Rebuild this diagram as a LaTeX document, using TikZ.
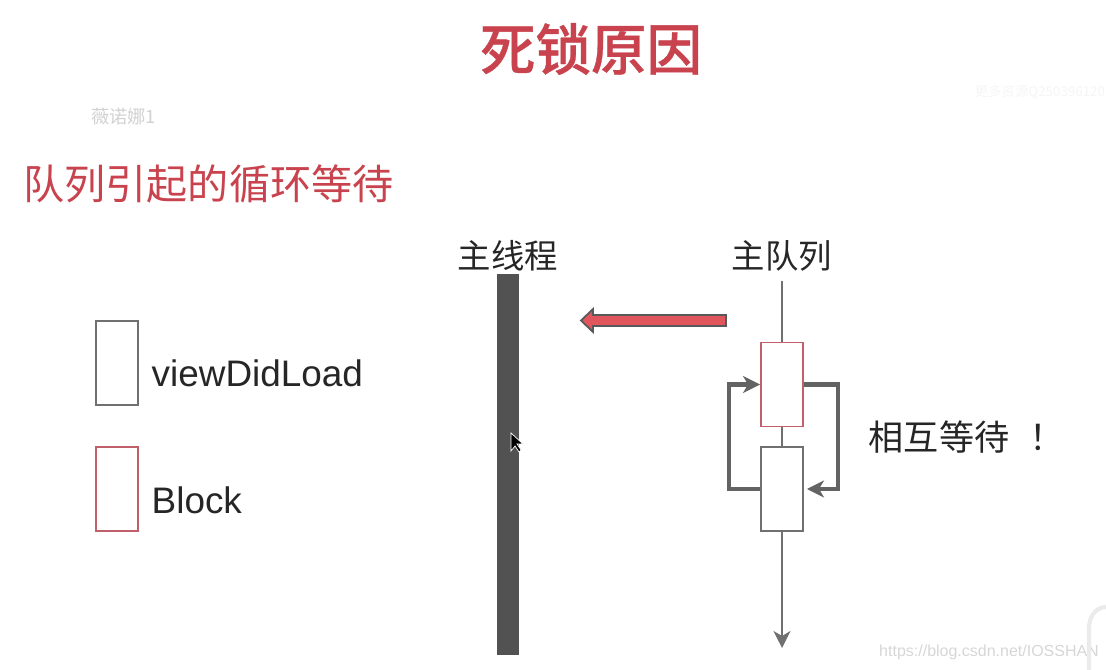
\documentclass[tikz,border=0pt]{standalone}
\usepackage{fontspec}
\setmainfont{Liberation Sans}
\newfontfamily\cjk{Noto Sans CJK SC}
\newfontfamily\cjkmed[FakeBold=0.6]{Noto Sans CJK SC Medium}
\usepackage{xcolor}
\usetikzlibrary{arrows.meta, calc, positioning}
\definecolor{titlered}{HTML}{C8434D}
\definecolor{arrowred}{HTML}{E0565C}
\definecolor{boxred}{HTML}{C0606A}
\definecolor{boxgray}{HTML}{707070}
\definecolor{bardark}{HTML}{525252}
\tikzset{
  label/.style={inner sep=0pt, text=black!85},
  box/.style={draw=boxgray, line width=0.55pt, fill=white, minimum width=0.42cm, minimum height=0.84cm, inner sep=0pt},
  redbox/.style={box, draw=boxred},
  loopline/.style={draw=bardark!90!white, line width=1.15pt}
}
\begin{document}
\begin{tikzpicture}[>={Stealth[length=0.17cm, width=0.17cm, inset=0.05cm]}]
      \useasboundingbox (0, 0) rectangle (11.06, 6.70);

      \node[inner sep=0pt, text=titlered, font=\cjkmed\fontsize{15.8}{16}\selectfont] (title) at (5.91, 6.21) {死锁原因};
      \node[inner sep=0pt, text=titlered, font=\cjk\fontsize{11.7}{12}\selectfont] (subtitle) at (2.085, 4.86) {队列引起的循环等待};
      \node[inner sep=0pt, text=black!18, font=\cjk\fontsize{5.2}{6}\selectfont] (mark) at (1.235, 5.53) {薇诺娜1};
      \node[inner sep=0pt, text=black!4, font=\cjk\fontsize{3.8}{5}\selectfont] (more) at (10.40, 5.78) {更多资源Q250396120};
      \node[inner sep=0pt, text=black!16, font=\fontsize{4.55}{6}\selectfont] (url) at (9.89, 0.18) {https://blog.csdn.net/IOSSHAN};

      % legend
      \node[box] (viewbox) at (1.17, 3.07) {};
      \node[redbox] (blockbox) at (1.17, 1.81) {};
      \node[label, anchor=west, font=\fontsize{10.5}{12}\selectfont] (viewtext) at (1.51, 2.97) {viewDidLoad};
      \node[label, anchor=west, font=\fontsize{10.5}{12}\selectfont] (blocktext) at (1.51, 1.70) {Block};

      % main thread
      \node[label, font=\cjk\fontsize{9.5}{11}\selectfont] (threadtext) at (5.08, 4.14) {主线程};
      \node[fill=bardark, minimum width=0.22cm, minimum height=3.81cm, inner sep=0pt] (thread) at (5.08, 2.055) {};
      \draw[white, fill=black, line width=0.2pt] (5.11, 2.37) -- (5.11, 2.19) -- (5.15, 2.24) -- (5.19, 2.18) -- (5.21, 2.20) -- (5.17, 2.26) -- (5.23, 2.26) -- cycle;

      % main queue
      \node[label, font=\cjk\fontsize{9.5}{11}\selectfont] (queuetext) at (7.82, 4.14) {主队列};
      \coordinate (queuetop) at (7.82, 3.89);
      \coordinate (queueend) at (7.82, 0.22);
      \draw[->, draw=boxgray, line width=0.55pt] (queuetop) -- (queueend);
      \node[redbox] (red) at (7.82, 2.855) {};
      \node[box] (white) at (7.82, 1.81) {};

      % waiting loops
      \draw[->, loopline] (white.west) -- ++(-0.31, 0) |- (red.west);
      \draw[->, loopline] (red.east) -- ++(0.34, 0) |- ($(white.east)+(0.03, 0)$);
      \node[label, anchor=west, font=\cjk\fontsize{10}{12}\selectfont] (waittext) at (8.68, 2.33) {相互等待\hspace{0.2cm}！};

      % red arrow
      \draw[fill=arrowred, draw=black!65, line width=0.5pt] (7.26, 3.55) -- (5.93, 3.55) -- (5.93, 3.61) -- (5.81, 3.495) -- (5.93, 3.38) -- (5.93, 3.44) -- (7.26, 3.44) -- cycle;

      % corner of the overlay
      \draw[black!8, line width=1.2pt] (10.89, 0) -- (10.89, 0.42) to[out=90, in=180] (11.06, 0.63);
    \end{tikzpicture}
\end{document}
